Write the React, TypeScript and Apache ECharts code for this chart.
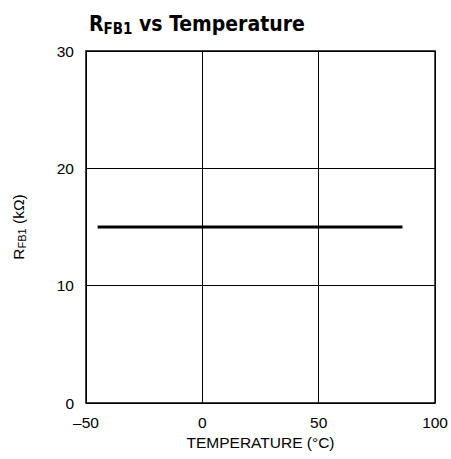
import React, { useEffect, useRef } from "react";
import * as echarts from "echarts";

const temperature: number[] = [-45, 86];
const rfb1: number[] = [15, 15];
const xTicks: number[] = [-50, 0, 50, 100];
const yTicks: number[] = [0, 10, 20, 30];

export default function App() {
  const ref = useRef<HTMLDivElement>(null);
  useEffect(() => {
    if (!ref.current) return;
    const chart = echarts.init(ref.current, undefined, { renderer: "svg" });
    const font = "'Liberation Sans', Arial, sans-serif";
    const tfont = "'DejaVu Sans Condensed', 'Liberation Sans', Arial";
    chart.setOption({
      animation: false,
      backgroundColor: "#fff",
      title: {
        text: "{b|R}{s|FB1}{b| vs Temperature}",
        left: 84,
        top: 6,
        textStyle: {
          rich: {
            b: { fontFamily: tfont, fontWeight: "bold", fontSize: 21, color: "#000" },
            s: { fontFamily: tfont, fontWeight: "bold", fontSize: 15, color: "#000", verticalAlign: "bottom", padding: [10, 0, 0, 0] },
          },
        },
      },
      grid: { left: 86, right: 14, top: 51, bottom: 56, show: true, borderColor: "#000", borderWidth: 1.5 },
      xAxis: {
        type: "value",
        min: xTicks[0],
        max: xTicks[xTicks.length - 1],
        interval: 50,
        name: "TEMPERATURE (°C)",
        nameLocation: "middle",
        nameGap: 30,
        nameTextStyle: { fontFamily: font, fontSize: 15.5, color: "#000" },
        axisLine: { show: false },
        axisTick: { show: false },
        axisLabel: {
          fontFamily: font,
          fontSize: 15.5,
          color: "#000",
          margin: 11,
          formatter: (v: number) => (v < 0 ? "\u2013" + Math.abs(v) : String(v)),
        },
        splitLine: { show: true, lineStyle: { color: "#000", width: 1 } },
      },
      yAxis: {
        type: "value",
        min: yTicks[0],
        max: yTicks[yTicks.length - 1],
        interval: 10,
        name: "{n|R}{s|FB1}{n| (kΩ)}",
        nameLocation: "middle",
        nameGap: 59,
        nameTextStyle: {
          rich: {
            n: { fontFamily: font, fontSize: 15.5, color: "#000" },
            s: { fontFamily: font, fontSize: 11, color: "#000", verticalAlign: "bottom", padding: [6, 0, 0, 0] },
          },
        },
        axisLine: { show: false },
        axisTick: { show: false },
        axisLabel: { fontFamily: font, fontSize: 15.5, color: "#000", margin: 12 },
        splitLine: { show: true, lineStyle: { color: "#000", width: 1 } },
      },
      series: [
        {
          type: "line",
          data: temperature.map((t, i) => [t, rfb1[i]]),
          showSymbol: false,
          lineStyle: { color: "#000", width: 3 },
        },
      ],
    });
    return () => chart.dispose();
  }, []);
  return <div ref={ref} style={{ position: "absolute", left: 0, top: 0, width: 451, height: 459 }} />;
}
